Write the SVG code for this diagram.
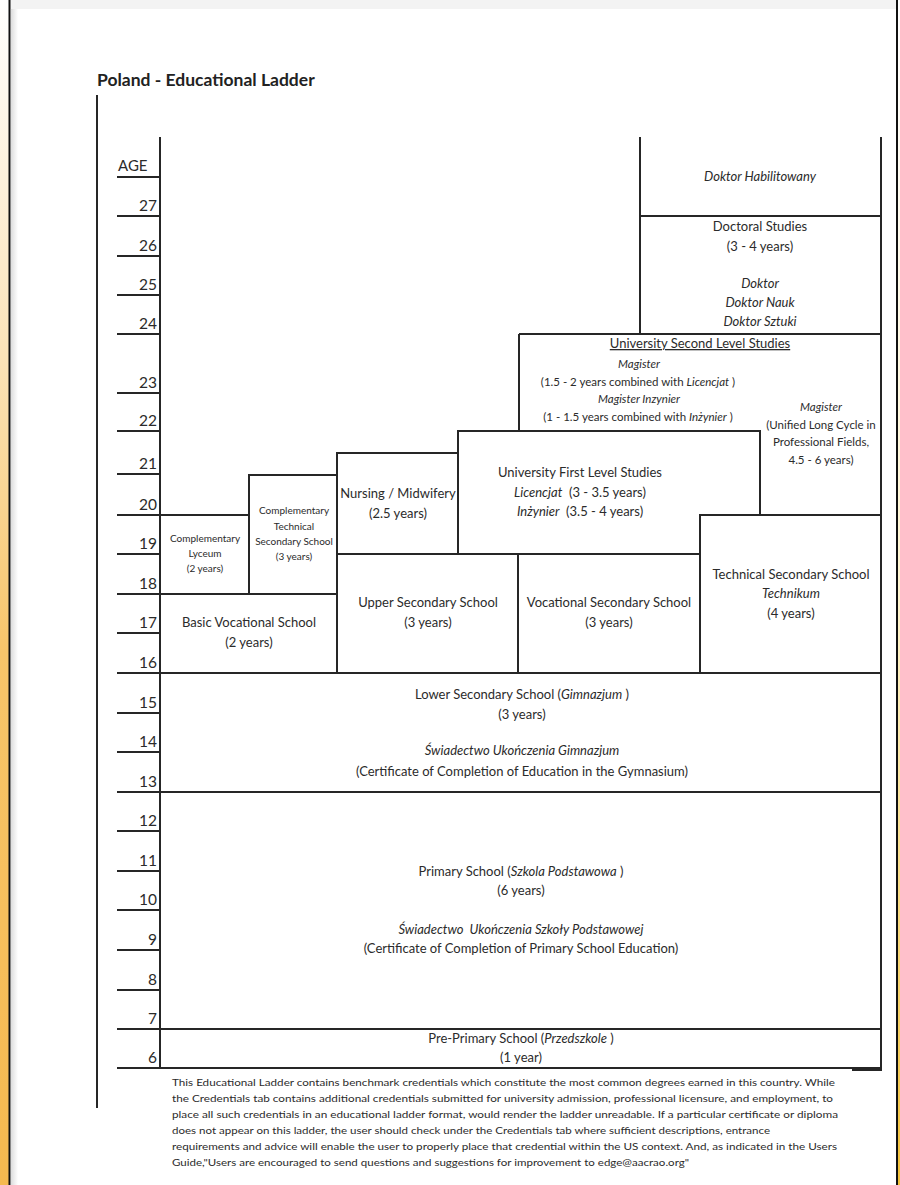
<svg xmlns="http://www.w3.org/2000/svg" width="900" height="1185" viewBox="0 0 900 1185">
<defs>
<linearGradient id="leftStrip" x1="0" y1="0" x2="0" y2="1">
<stop offset="0" stop-color="#ffffff"/>
<stop offset="0.3" stop-color="#fbe3b8"/>
<stop offset="0.55" stop-color="#f7c56a"/>
<stop offset="1" stop-color="#f5b94f"/>
</linearGradient>
<linearGradient id="rightStrip" x1="0" y1="0" x2="0" y2="1">
<stop offset="0" stop-color="#ffffff"/>
<stop offset="0.5" stop-color="#fff6d0"/>
<stop offset="1" stop-color="#f3c23a"/>
</linearGradient>
<linearGradient id="pageShade" x1="0" y1="0" x2="1" y2="0">
<stop offset="0" stop-color="#dddddd"/>
<stop offset="1" stop-color="#ffffff"/>
</linearGradient>
</defs>
<style>
.ln{stroke:#262626;stroke-width:2;fill:none}
.bx{stroke:#262626;stroke-width:2;fill:none}
.t{font-family:Lato,"Liberation Sans",sans-serif;fill:#2b2b2b;font-size:13px;text-anchor:middle;white-space:pre}
.s{font-size:11.5px}
.xs{font-size:10px}
.i{font-style:italic}
.age{font-family:Lato,"Liberation Sans",sans-serif;fill:#2b2b2b;font-size:15.5px;text-anchor:end}
.ft{font-family:Lato,"Liberation Sans",sans-serif;fill:#2b2b2b;font-size:10px}
</style>
<rect x="0" y="0" width="900" height="1185" fill="#ffffff"/>
<rect x="0" y="0" width="9" height="1185" fill="url(#leftStrip)"/>
<rect x="898" y="0" width="2" height="1185" fill="url(#rightStrip)"/>
<rect x="10" y="0" width="887" height="9" fill="#f3f3f3"/>
<rect x="11" y="9" width="7" height="1176" fill="url(#pageShade)"/>
<line x1="9.5" y1="0" x2="9.5" y2="1185" stroke="#111" stroke-width="2"/>
<line x1="897" y1="0" x2="897" y2="1185" stroke="#111" stroke-width="2"/>

<text x="97" y="86" style="font-family:Lato,'Liberation Sans',sans-serif;font-weight:bold;font-size:17.5px;fill:#222">Poland - Educational Ladder</text>

<g id="axis">
<line class="ln" x1="97" y1="95" x2="97" y2="1108"/>
<line class="ln" x1="160" y1="137" x2="160" y2="1069"/>
<line class="ln" x1="881" y1="137" x2="881" y2="1069"/>
<text x="118" y="171" style="font-family:Lato,'Liberation Sans',sans-serif;font-size:15px;fill:#2b2b2b">AGE</text>
<line class="ln" x1="117" y1="177" x2="160" y2="177"/>
<line class="ln" x1="117" y1="216" x2="160" y2="216"/>
<line class="ln" x1="117" y1="256" x2="160" y2="256"/>
<line class="ln" x1="117" y1="295" x2="160" y2="295"/>
<line class="ln" x1="117" y1="334" x2="160" y2="334"/>
<line class="ln" x1="117" y1="393" x2="160" y2="393"/>
<line class="ln" x1="117" y1="431" x2="160" y2="431"/>
<line class="ln" x1="117" y1="474" x2="160" y2="474"/>
<line class="ln" x1="117" y1="515" x2="160" y2="515"/>
<line class="ln" x1="117" y1="554" x2="160" y2="554"/>
<line class="ln" x1="117" y1="594" x2="160" y2="594"/>
<line class="ln" x1="117" y1="633" x2="160" y2="633"/>
<line class="ln" x1="117" y1="673" x2="160" y2="673"/>
<line class="ln" x1="117" y1="713" x2="160" y2="713"/>
<line class="ln" x1="117" y1="752" x2="160" y2="752"/>
<line class="ln" x1="117" y1="792" x2="160" y2="792"/>
<line class="ln" x1="117" y1="831" x2="160" y2="831"/>
<line class="ln" x1="117" y1="871" x2="160" y2="871"/>
<line class="ln" x1="117" y1="910" x2="160" y2="910"/>
<line class="ln" x1="117" y1="950" x2="160" y2="950"/>
<line class="ln" x1="117" y1="990" x2="160" y2="990"/>
<line class="ln" x1="117" y1="1029" x2="160" y2="1029"/>
<line class="ln" x1="117" y1="1068" x2="160" y2="1068"/>
<text class="age" x="157" y="211">27</text>
<text class="age" x="157" y="251">26</text>
<text class="age" x="157" y="290">25</text>
<text class="age" x="157" y="329">24</text>
<text class="age" x="157" y="388">23</text>
<text class="age" x="157" y="426">22</text>
<text class="age" x="157" y="469">21</text>
<text class="age" x="157" y="510">20</text>
<text class="age" x="157" y="549">19</text>
<text class="age" x="157" y="589">18</text>
<text class="age" x="157" y="628">17</text>
<text class="age" x="157" y="668">16</text>
<text class="age" x="157" y="708">15</text>
<text class="age" x="157" y="747">14</text>
<text class="age" x="157" y="787">13</text>
<text class="age" x="157" y="826">12</text>
<text class="age" x="157" y="866">11</text>
<text class="age" x="157" y="905">10</text>
<text class="age" x="157" y="945">9</text>
<text class="age" x="157" y="985">8</text>
<text class="age" x="157" y="1024">7</text>
<text class="age" x="157" y="1063">6</text>
</g>

<g id="connectors"></g>

<g id="doktor-habilitowany">
<line class="ln" x1="640" y1="137" x2="640" y2="334"/>
<line class="ln" x1="640" y1="216" x2="881" y2="216"/>
<text class="t i" x="760" y="181">Doktor Habilitowany</text>
</g>

<g id="doctoral-studies">
<text class="t" x="760" y="231">Doctoral Studies</text>
<text class="t" x="760" y="251">(3 - 4 years)</text>
<text class="t i" x="760" y="288">Doktor</text>
<text class="t i" x="760" y="307">Doktor Nauk</text>
<text class="t i" x="760" y="326">Doktor Sztuki</text>
</g>

<g id="university-second-level">
<line class="ln" x1="519" y1="334" x2="881" y2="334"/>
<line class="ln" x1="519" y1="334" x2="519" y2="431"/>
<text class="t" x="700" y="348" text-decoration="underline">University Second Level Studies</text>
<text class="t s i" x="639" y="368">Magister</text>
<text class="t s" x="638" y="386">(1.5 - 2 years combined with <tspan class="i">Licencjat</tspan> )</text>
<text class="t s i" x="639" y="403">Magister Inzynier</text>
<text class="t s" x="638" y="421">(1 - 1.5 years combined with <tspan class="i">Inżynier</tspan> )</text>
</g>

<g id="magister-unified">
<text class="t s i" x="821" y="411">Magister</text>
<text class="t s" x="821" y="429">(Unified Long Cycle in</text>
<text class="t s" x="821" y="446">Professional Fields,</text>
<text class="t s" x="821" y="464">4.5 - 6 years)</text>
</g>

<g id="university-first-level">
<path class="bx" d="M458,554 V431 H760 V515 M458,554 H700"/>
<text class="t" x="580" y="477">University First Level Studies</text>
<text class="t" x="580" y="497"><tspan class="i">Licencjat</tspan>  (3 - 3.5 years)</text>
<text class="t" x="580" y="516"><tspan class="i">Inżynier</tspan>  (3.5 - 4 years)</text>
</g>

<g id="technical-secondary">
<rect class="bx" x="700" y="515" width="181" height="158"/>
<text class="t" x="791" y="579">Technical Secondary School</text>
<text class="t i" x="791" y="598">Technikum</text>
<text class="t" x="791" y="618">(4 years)</text>
</g>

<g id="vocational-secondary">
<rect class="bx" x="518" y="554" width="182" height="119"/>
<text class="t" x="609" y="607">Vocational Secondary School</text>
<text class="t" x="609" y="627">(3 years)</text>
</g>

<g id="upper-secondary">
<rect class="bx" x="337" y="554" width="181" height="119"/>
<text class="t" x="428" y="607">Upper Secondary School</text>
<text class="t" x="428" y="627">(3 years)</text>
</g>

<g id="nursing-midwifery">
<rect class="bx" x="337" y="453" width="121" height="101"/>
<text class="t" x="398" y="498">Nursing / Midwifery</text>
<text class="t" x="398" y="518">(2.5 years)</text>
</g>

<g id="complementary-technical">
<rect class="bx" x="249" y="475" width="88" height="119"/>
<text class="t xs" x="294" y="514">Complementary</text>
<text class="t xs" x="294" y="530">Technical</text>
<text class="t xs" x="294" y="545">Secondary School</text>
<text class="t xs" x="294" y="560">(3 years)</text>
</g>

<g id="complementary-lyceum">
<rect class="bx" x="160" y="515" width="89" height="79"/>
<text class="t xs" x="205" y="542">Complementary</text>
<text class="t xs" x="205" y="557">Lyceum</text>
<text class="t xs" x="205" y="572">(2 years)</text>
</g>

<g id="basic-vocational">
<rect class="bx" x="160" y="594" width="177" height="79"/>
<text class="t" x="249" y="627">Basic Vocational School</text>
<text class="t" x="249" y="647">(2 years)</text>
</g>

<g id="lower-secondary">
<rect class="bx" x="160" y="673" width="721" height="119"/>
<text class="t" x="522" y="699">Lower Secondary School (<tspan class="i">Gimnazjum</tspan> )</text>
<text class="t" x="522" y="719">(3 years)</text>
<text class="t i" x="522" y="755">Świadectwo Ukończenia Gimnazjum</text>
<text class="t" x="522" y="776">(Certificate of Completion of Education in the Gymnasium)</text>
</g>

<g id="primary-school">
<rect class="bx" x="160" y="792" width="721" height="237"/>
<text class="t" x="521" y="876">Primary School (<tspan class="i">Szkola Podstawowa</tspan> )</text>
<text class="t" x="521" y="895">(6 years)</text>
<text class="t i" x="521" y="934">Świadectwo  Ukończenia Szkoły Podstawowej</text>
<text class="t" x="521" y="953">(Certificate of Completion of Primary School Education)</text>
</g>

<g id="pre-primary">
<rect class="bx" x="160" y="1029" width="721" height="39"/>
<text class="t" x="521" y="1043">Pre-Primary School (<tspan class="i">Przedszkole</tspan> )</text>
<text class="t" x="521" y="1062">(1 year)</text>
<line class="ln" x1="852" y1="1070" x2="882" y2="1070"/>
</g>

<g id="footer-note">
<text class="ft" x="172" y="1086" textLength="663" lengthAdjust="spacingAndGlyphs">This Educational Ladder contains benchmark credentials which constitute the most common degrees earned in this country. While</text>
<text class="ft" x="172" y="1102" textLength="661" lengthAdjust="spacingAndGlyphs">the Credentials tab contains additional credentials submitted for university admission, professional licensure, and employment, to</text>
<text class="ft" x="172" y="1118" textLength="666" lengthAdjust="spacingAndGlyphs">place all such credentials in an educational ladder format, would render the ladder unreadable. If a particular certificate or diploma</text>
<text class="ft" x="172" y="1134" textLength="598" lengthAdjust="spacingAndGlyphs">does not appear on this ladder, the user should check under the Credentials tab where sufficient descriptions, entrance</text>
<text class="ft" x="172" y="1150" textLength="665" lengthAdjust="spacingAndGlyphs">requirements and advice will enable the user to properly place that credential within the US context. And, as indicated in the Users</text>
<text class="ft" x="172" y="1166" textLength="517" lengthAdjust="spacingAndGlyphs">Guide,"Users are encouraged to send questions and suggestions for improvement to edge@aacrao.org"</text>
</g>
</svg>
